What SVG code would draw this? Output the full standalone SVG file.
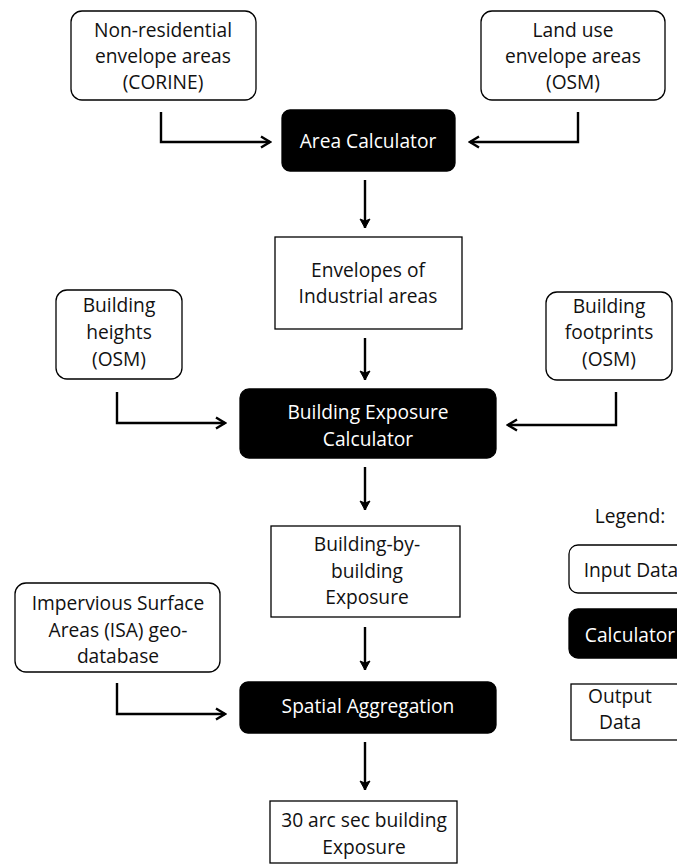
<svg xmlns="http://www.w3.org/2000/svg" width="677" height="866" viewBox="0 0 677 866">
<style>
.in{fill:#fff;stroke:#000;stroke-width:1.3}
.calc{fill:#000;stroke:#000;stroke-width:1.3}
.out{fill:#fff;stroke:#000;stroke-width:1.3}
text{font-family:"Open Sans","Noto Sans",sans-serif;font-size:19.2px;text-anchor:middle;fill:#111}
.w{fill:#fff}
.c line,.c path{fill:none;stroke:#000;stroke-width:2.4}
</style>
<defs>
<marker id="ah" markerUnits="userSpaceOnUse" viewBox="-12 -8 14 16" refX="0" refY="0" markerWidth="14" markerHeight="16" orient="auto">
<path d="M-9,-5.5 L0,0 L-9,5.5" fill="none" stroke="#000" stroke-width="2.4"/>
</marker>
<marker id="av" markerUnits="userSpaceOnUse" viewBox="-12 -8 14 16" refX="0" refY="0" markerWidth="14" markerHeight="16" orient="auto">
<path d="M-9,-5 L0,0 L-9,5 L-7,0 z" fill="#000" stroke="#000" stroke-width="1"/>
</marker>
</defs>
<g id="n-corine">
<rect class="in" x="71" y="11" width="185" height="89" rx="11"/>
<text x="163" y="37">Non-residential</text>
<text x="163" y="63">envelope areas</text>
<text x="163" y="89">(CORINE)</text>
</g>
<g id="n-landuse">
<rect class="in" x="481" y="11" width="184" height="89" rx="11"/>
<text x="573" y="37">Land use</text>
<text x="573" y="63">envelope areas</text>
<text x="573" y="89">(OSM)</text>
</g>
<g id="n-areacalc">
<rect class="calc" x="282" y="110" width="173" height="61" rx="8"/>
<text class="w" x="368" y="148">Area Calculator</text>
</g>
<g id="n-envelopes">
<rect class="out" x="275" y="237" width="187" height="92"/>
<text x="368" y="277">Envelopes of</text>
<text x="368" y="303">Industrial areas</text>
</g>
<g id="n-heights">
<rect class="in" x="56" y="290" width="126" height="89" rx="11"/>
<text x="119" y="312">Building</text>
<text x="119" y="339">heights</text>
<text x="119" y="366">(OSM)</text>
</g>
<g id="n-footprints">
<rect class="in" x="546" y="292" width="126" height="88" rx="11"/>
<text x="609" y="313">Building</text>
<text x="609" y="339">footprints</text>
<text x="609" y="366">(OSM)</text>
</g>
<g id="n-becalc">
<rect class="calc" x="240" y="389" width="256" height="69" rx="9"/>
<text class="w" x="368" y="419">Building Exposure</text>
<text class="w" x="368" y="446">Calculator</text>
</g>
<g id="n-bbb">
<rect class="out" x="271" y="526" width="189" height="91"/>
<text x="367" y="551">Building-by-</text>
<text x="367" y="578">building</text>
<text x="367" y="604">Exposure</text>
</g>
<g id="n-isa">
<rect class="in" x="15" y="583" width="205" height="89" rx="11"/>
<text x="118" y="610">Impervious Surface</text>
<text x="118" y="637">Areas (ISA) geo-</text>
<text x="118" y="663">database</text>
</g>
<g id="n-spatial">
<rect class="calc" x="240" y="682" width="256" height="51" rx="8"/>
<text class="w" x="368" y="713">Spatial Aggregation</text>
</g>
<g id="n-final">
<rect class="out" x="270" y="801" width="187" height="62"/>
<text x="364" y="827">30 arc sec building</text>
<text x="364" y="854">Exposure</text>
</g>
<g id="legend">
<text x="630" y="523">Legend:</text>
<rect class="in" x="569" y="545" width="125" height="48" rx="9"/>
<text x="631" y="577">Input Data</text>
<rect class="calc" x="569" y="609" width="125" height="49" rx="9"/>
<text class="w" x="630" y="642">Calculator</text>
<rect class="out" x="571" y="684" width="120" height="56"/>
<text x="620" y="703">Output</text>
<text x="620" y="729">Data</text>
</g>
<g id="connectors" class="c">
<path d="M161,112 V142 H270" marker-end="url(#ah)"/>
<path d="M578,112 V142 H470" marker-end="url(#ah)"/>
<line x1="365" y1="180" x2="365" y2="228" marker-end="url(#av)"/>
<line x1="365" y1="338" x2="365" y2="380" marker-end="url(#av)"/>
<path d="M117,392 V423 H225" marker-end="url(#ah)"/>
<path d="M616,392 V425 H508" marker-end="url(#ah)"/>
<line x1="365" y1="467" x2="365" y2="510" marker-end="url(#av)"/>
<line x1="365" y1="627" x2="365" y2="670" marker-end="url(#av)"/>
<path d="M117,683 V714 H225" marker-end="url(#ah)"/>
<line x1="365" y1="742" x2="365" y2="790" marker-end="url(#av)"/>
</g>
</svg>
